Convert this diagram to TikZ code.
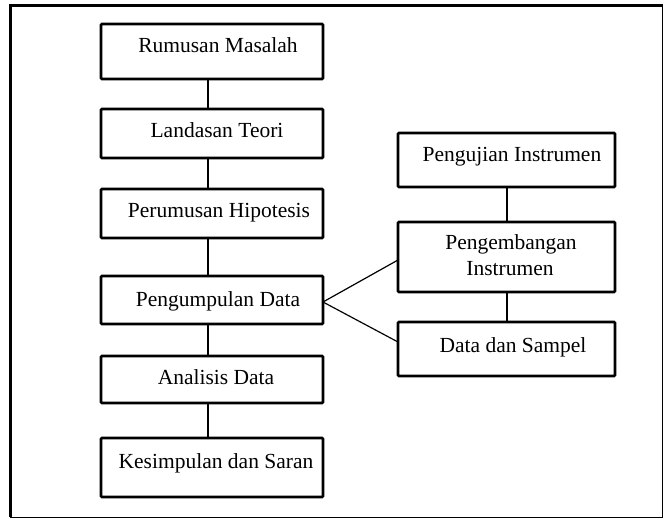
\documentclass[tikz,border=0pt]{standalone}
\usepackage{fontspec}
\setmainfont{Liberation Serif}
\begin{document}
\begin{tikzpicture}[x=1pt,y=-1pt,
  box/.style={draw, line width=2.7pt, rounded corners=1pt},
  txt/.style={anchor=base, inner sep=0pt, font=\fontsize{21.5}{26}\selectfont, align=center},
  conn/.style={line width=1.2pt}]
\useasboundingbox (0,0) rectangle (663,518);
% frame
\draw[line width=3pt] (10,517) -- (10,5.5) -- (663,5.5);
\draw[line width=1pt] (10,517) -- (662,517) -- (662,5.5);
% left column boxes
\draw[box] (101,24) rectangle (323,79);
\coordinate (b1n) at (208,24); \coordinate (b1s) at (208,79);
\draw[box] (101,109) rectangle (323,158);
\coordinate (b2n) at (208,109); \coordinate (b2s) at (208,158);
\draw[box] (101,189) rectangle (323,238);
\coordinate (b3n) at (208,189); \coordinate (b3s) at (208,238);
\draw[box] (101,276) rectangle (323,324);
\coordinate (b4n) at (208,276); \coordinate (b4s) at (208,324); \coordinate (b4e) at (323,302);
\draw[box] (101,356) rectangle (323,403);
\coordinate (b5n) at (208,356); \coordinate (b5s) at (208,403);
\draw[box] (101,438) rectangle (323,497);
\coordinate (b6n) at (208,438);
% right column boxes
\draw[box] (398,133) rectangle (615,187);
\coordinate (r1s) at (507,187);
\draw[box] (398,222) rectangle (615,292);
\coordinate (r2n) at (507,222); \coordinate (r2s) at (507,292); \coordinate (r2w) at (398,260);
\draw[box] (398,322) rectangle (615,376);
\coordinate (r3n) at (507,322); \coordinate (r3w) at (398,342);
% texts
\node[txt] (t1) at (218,53) {Rumusan Masalah};
\node[txt] (t2) at (217,138) {Landasan Teori};
\node[txt] (t3) at (219,218) {Perumusan Hipotesis};
\node[txt] (t4) at (218,306) {Pengumpulan Data};
\node[txt] (t5) at (216,384) {Analisis Data};
\node[txt] (t6) at (216,468) {Kesimpulan dan Saran};
\node[txt] (u1) at (512,162) {Pengujian Instrumen};
\node[txt] (u2a) at (511,250) {Pengembangan};
\node[txt] (u2b) at (510,276) {Instrumen};
\node[txt] (u3) at (513,352) {Data dan Sampel};
% connectors
\draw[conn] (b1s) -- (b2n);
\draw[conn] (b2s) -- (b3n);
\draw[conn] (b3s) -- (b4n);
\draw[conn] (b4s) -- (b5n);
\draw[conn] (b5s) -- (b6n);
\draw[conn] (r1s) -- (r2n);
\draw[conn] (r2s) -- (r3n);
\draw[conn] (r2w) -- (b4e) -- (r3w);
\end{tikzpicture}
\end{document}
